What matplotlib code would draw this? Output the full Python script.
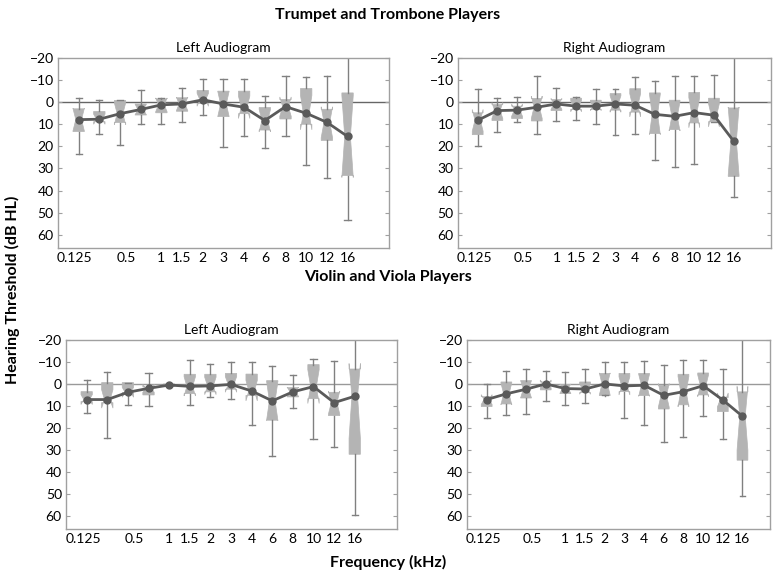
import numpy as np
import matplotlib
matplotlib.use("Agg")
import matplotlib.pyplot as plt

plt.rcParams["font.family"] = ["Lato", "DejaVu Sans"]

freq_labels = ["0.125", "0.5", "1", "1.5", "2", "3", "4", "6", "8", "10", "12", "16"]
label_pos = [0.82, 3.32, 5, 6, 7, 8, 9, 10, 11, 12, 13, 14]
positions = np.arange(1, 15)
n_subjects = 10

# trumpet / trombone, left ear
tt_left_q1 = [3.0, 4.2, -0.8, 0.8, -1.5, -2.0, -5.3, -5.0, -5.0, 2.4, -1.2, -6.2, 3.2, -4.2]
tt_left_med = [7.9, 7.7, 5.2, 3.3, 1.2, 0.8, -1.1, 0.8, 2.3, 8.3, 2.0, 5.0, 9.1, 15.5]
tt_left_q3 = [13.3, 8.8, 9.2, 5.8, 4.8, 4.1, 0.6, 6.5, 5.2, 12.6, 7.6, 10.0, 17.3, 33.2]
tt_left_lo = [-2.1, -1.1, -1.0, -5.3, -2.0, -6.2, -10.3, -10.3, -10.3, -3.0, -11.7, -11.2, -11.7, -25.0]
tt_left_hi = [23.3, 14.2, 19.5, 10.0, 9.7, 9.1, 5.6, 20.2, 15.5, 20.8, 15.5, 28.5, 34.4, 53.5]

# trumpet / trombone, right ear
tt_right_q1 = [4.8, 1.1, 1.8, -1.7, -1.2, -1.8, -0.9, -3.9, -6.1, -4.2, -0.9, -4.4, -1.8, 2.6]
tt_right_med = [8.2, 3.8, 3.6, 2.3, 0.8, 1.8, 1.8, 0.8, 1.4, 5.5, 6.4, 4.7, 5.9, 17.6]
tt_right_q3 = [14.7, 8.3, 7.4, 8.5, 3.8, 3.3, 3.2, 3.6, 4.5, 14.2, 12.4, 9.4, 8.8, 33.6]
tt_right_lo = [-5.9, -2.1, -2.4, -11.8, -6.4, -2.4, -5.8, -5.8, -11.2, -9.4, -11.7, -11.8, -12.1, -25.0]
tt_right_hi = [19.7, 13.5, 8.8, 14.4, 8.5, 8.2, 9.7, 14.7, 14.5, 26.0, 29.5, 28.2, 8.9, 43.0]

# violin / viola, left ear
vv_left_q1 = [3.5, -0.6, -0.6, 1.4, 0.0, -4.4, -4.4, -4.8, -4.5, -1.5, 1.7, -8.8, 3.8, -6.8]
vv_left_med = [7.1, 7.1, 3.8, 2.0, 0.5, 1.1, 0.9, 0.2, 3.2, 7.7, 3.6, 1.2, 8.5, 5.6]
vv_left_q3 = [8.0, 8.5, 3.9, 5.0, 1.0, 4.4, 3.6, 2.4, 5.2, 16.5, 5.9, 6.7, 14.4, 32.0]
vv_left_lo = [-1.8, -5.6, -0.5, -5.0, 0.0, -10.9, -9.2, -10.2, -10.0, -8.2, -4.2, -11.2, -10.6, -25.0]
vv_left_hi = [13.3, 24.4, 9.7, 10.2, 1.0, 9.4, 5.8, 6.7, 18.9, 32.9, 10.9, 25.2, 28.9, 59.5]

# violin / viola, right ear
vv_right_q1 = [5.8, -0.9, -1.5, -0.9, 0.2, -0.9, -4.8, -4.8, -4.8, 0.6, -4.4, -5.0, 6.2, 3.6]
vv_right_med = [7.1, 4.5, 2.4, 0.0, 2.1, 2.3, 0.0, 0.9, 0.6, 5.2, 3.5, 0.8, 7.3, 14.7]
vv_right_q3 = [10.3, 9.1, 6.4, 2.7, 4.4, 3.9, 5.3, 3.5, 5.3, 11.4, 9.5, 5.0, 12.6, 34.7]
vv_right_lo = [0.0, -6.1, -6.7, -6.1, -5.6, -6.7, -10.0, -10.2, -10.6, -8.8, -10.8, -11.1, -6.7, -25.0]
vv_right_hi = [15.3, 14.1, 13.5, 7.7, 9.4, 8.8, 5.2, 15.3, 18.9, 26.4, 24.2, 14.7, 25.2, 51.0]

BOX = "#b4b4b4"
WHISK = "#808080"
LINE = "#5a5a5a"
SPINE = "#a0a0a0"


def make_stats(q1, med, q3, lo, hi):
    stats = []
    for a, m, b, w1, w2 in zip(q1, med, q3, lo, hi):
        half = 1.57 * (b - a) / np.sqrt(n_subjects)
        # notch flares are only drawn a little past the box
        cilo = max(m - half, a - 2.5)
        cihi = min(m + half, b + 2.5)
        stats.append(dict(q1=a, med=m, q3=b, whislo=w1, whishi=w2,
                          cilo=cilo, cihi=cihi, fliers=[]))
    return stats


def draw_panel(ax, title, q1, med, q3, lo, hi, xmax, zero_color):
    ax.axhline(0, color=zero_color, linewidth=1, zorder=1)
    ax.bxp(make_stats(q1, med, q3, lo, hi), positions=positions, widths=0.55,
           patch_artist=True, shownotches=True, showfliers=False,
           boxprops=dict(facecolor=BOX, edgecolor=BOX, linewidth=0.5),
           whiskerprops=dict(color=WHISK, linewidth=1),
           capprops=dict(color=WHISK, linewidth=1),
           capwidths=0.3,
           medianprops=dict(linewidth=0),
           manage_ticks=False, zorder=2)
    ax.plot(positions, med, color=LINE, linewidth=2, marker="o",
            markersize=5, zorder=4)
    ax.set_xlim(0, xmax)
    ax.set_ylim(66, -20)
    ax.set_yticks(np.arange(-20, 61, 10))
    ax.set_xticks(label_pos)
    ax.set_xticklabels(freq_labels)
    ax.tick_params(axis="y", direction="in", length=3, color=SPINE,
                   right=True, labelsize=10, pad=3)
    ax.tick_params(axis="x", direction="in", length=0, labelsize=10, pad=3)
    for s in ax.spines.values():
        s.set_color(SPINE)
        s.set_linewidth(1)
    ax.set_title(title, fontsize=10, pad=4)


fig = plt.figure(figsize=(7.76, 5.72), dpi=100)

ax1 = fig.add_axes([0.0747, 0.5664, 0.4265, 0.3322])
ax2 = fig.add_axes([0.5902, 0.5664, 0.4034, 0.3322])
ax3 = fig.add_axes([0.0851, 0.0752, 0.4265, 0.3304])
ax4 = fig.add_axes([0.6018, 0.0752, 0.3905, 0.3304])

draw_panel(ax1, "Left Audiogram", tt_left_q1, tt_left_med, tt_left_q3,
           tt_left_lo, tt_left_hi, 16, "#666666")
draw_panel(ax2, "Right Audiogram", tt_right_q1, tt_right_med, tt_right_q3,
           tt_right_lo, tt_right_hi, 15.9, "#666666")
draw_panel(ax3, "Left Audiogram", vv_left_q1, vv_left_med, vv_left_q3,
           vv_left_lo, vv_left_hi, 16.05, "#999999")
draw_panel(ax4, "Right Audiogram", vv_right_q1, vv_right_med, vv_right_q3,
           vv_right_lo, vv_right_hi, 15.4, "#999999")

fig.text(0.5, 0.973, "Trumpet and Trombone Players", ha="center", va="center",
         fontsize=11.5, fontweight="bold")
fig.text(0.5, 0.516, "Violin and Viola Players", ha="center", va="center",
         fontsize=11.5, fontweight="bold")
fig.text(0.016, 0.493, "Hearing Threshold (dB HL)", ha="center", va="center",
         rotation=90, fontsize=11.5, fontweight="bold")
fig.text(0.5, 0.016, "Frequency (kHz)", ha="center", va="center",
         fontsize=11.5, fontweight="bold")

fig.savefig("out.png", dpi=100)
